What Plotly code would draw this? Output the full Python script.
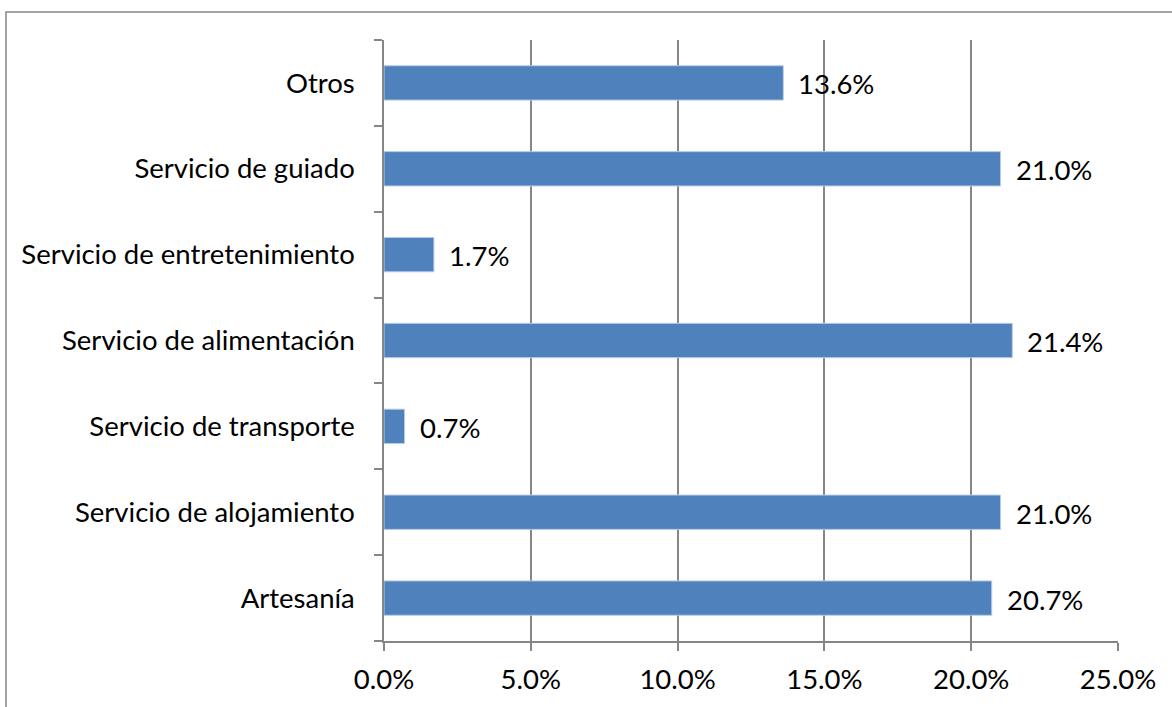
import plotly.graph_objects as go

categories = ["Artesanía", "Servicio de alojamiento", "Servicio de transporte",
              "Servicio de alimentación", "Servicio de entretenimiento",
              "Servicio de guiado", "Otros"]
values = [0.207, 0.210, 0.007, 0.214, 0.017, 0.210, 0.136]
x_ticks = [0, 0.05, 0.10, 0.15, 0.20, 0.25]
x_tick_labels = ["0.0%", "5.0%", "10.0%", "15.0%", "20.0%", "25.0%"]

FONT = "Lato"
FS = 27.5
GRAY = "#868686"

fig = go.Figure()
fig.add_trace(go.Bar(
    x=values, y=categories, orientation="h",
    marker=dict(color="#4F81BD", line=dict(color="#B8CCE4", width=1)),
    width=0.4, hoverinfo="skip",
))

for v, c in zip(values, categories):
    fig.add_annotation(x=v, y=c, text=f"{v*100:.1f}%", showarrow=False,
                       xanchor="left", yanchor="middle", xshift=13, yshift=-1,
                       font=dict(family=FONT, size=FS, color="#000000"))

fig.update_layout(
    width=1172, height=707,
    margin=dict(l=384, r=54, t=40, b=66),
    paper_bgcolor="white", plot_bgcolor="white",
    showlegend=False,
    font=dict(family=FONT, size=FS, color="#000000"),
    xaxis=dict(range=[0, 0.25], tickvals=x_ticks, ticktext=x_tick_labels,
               showgrid=True, gridcolor=GRAY, gridwidth=1.5,
               showline=True, linecolor=GRAY, linewidth=1.5,
               ticks="outside", ticklen=8, tickcolor=GRAY, tickwidth=1.5,
               zeroline=False, ticklabelstandoff=5,
               tickfont=dict(family=FONT, size=FS)),
    yaxis=dict(categoryorder="array", categoryarray=categories,
               showline=True, linecolor=GRAY, linewidth=1.5,
               ticks="outside", ticklen=8, tickcolor=GRAY, tickwidth=1.5,
               tickson="boundaries", showgrid=False, zeroline=False,
               ticklabelstandoff=22,
               tickfont=dict(family=FONT, size=FS)),
    shapes=[dict(type="rect", xref="paper", yref="paper",
                 x0=-378/734, x1=1.2, y0=-0.5, y1=1 + 28/601,
                 line=dict(color=GRAY, width=1.5), fillcolor="rgba(0,0,0,0)",
                 layer="below")],
)

fig.write_html("out.html", config={"displayModeBar": False},
               post_script="document.body.style.margin='0';document.body.style.overflow='hidden';")
